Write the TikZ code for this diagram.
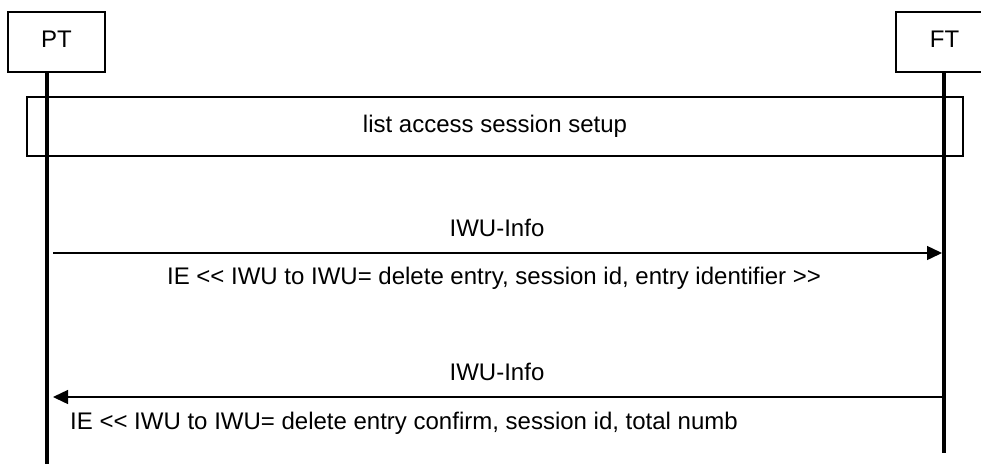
\documentclass[tikz,border=0pt]{standalone}
\usepackage{fontspec}
\setmainfont{Liberation Sans}
\usetikzlibrary{arrows.meta,positioning}
\tikzset{
  sdfont/.style={font=\fontsize{24}{28}\selectfont},
  entitybox/.style={draw, line width=1.5pt, sdfont, inner sep=0pt, minimum width=97pt, minimum height=60pt, text height=17pt, text depth=6pt},
  phasebox/.style={draw, line width=1.5pt, sdfont, inner sep=0pt, minimum width=936pt, minimum height=59pt, text height=17pt, text depth=6pt},
  lifeline/.style={line width=4pt},
  msg/.style={-{Triangle[length=15pt, width=14pt]}, line width=1.4pt},
  msglabel/.style={sdfont, inner sep=0pt, anchor=base}
}
\newcommand{\ltlt}{<\kern0pt<}
\newcommand{\gtgt}{>\kern0pt>}
\begin{document}
\begin{tikzpicture}[x=1pt, y=-1pt]
  \clip (0,0) rectangle (981,464);
  % entities
  \node[entitybox] (pt) at (56.5,42) {PT};
  \node[entitybox] (ft) at (944.5,42) {FT};
  \node[phasebox] (setup) at (495,126.5) {list access session setup};

  \coordinate (ptbot) at (47,464);
  \coordinate (ftbot) at (944,453);
  \draw[lifeline] (pt.south -| ptbot) -- (ptbot);
  \draw[lifeline] (ft.south -| ftbot) -- (ftbot);

  % delete entry request
  \coordinate (req1) at (53,253);
  \coordinate (req2) at (942,253);
  \draw[msg] (req1) -- (req2);
  \node[msglabel] (reqname) at (497,236) {IWU-Info};
  \node[msglabel] (reqie) at (494,284) {IE \ltlt{} IWU to IWU= delete entry, session id, entry identifier \gtgt};

  % delete entry confirm
  \coordinate (cnf1) at (942,397);
  \coordinate (cnf2) at (53,397);
  \draw[msg] (cnf1) -- (cnf2);
  \node[msglabel] (cnfname) at (497,380) {IWU-Info};
  \node[msglabel, anchor=base west] (cnfie) at (70,429) {IE \ltlt{} IWU to IWU= delete entry confirm, session id, total numb};
\end{tikzpicture}
\end{document}
